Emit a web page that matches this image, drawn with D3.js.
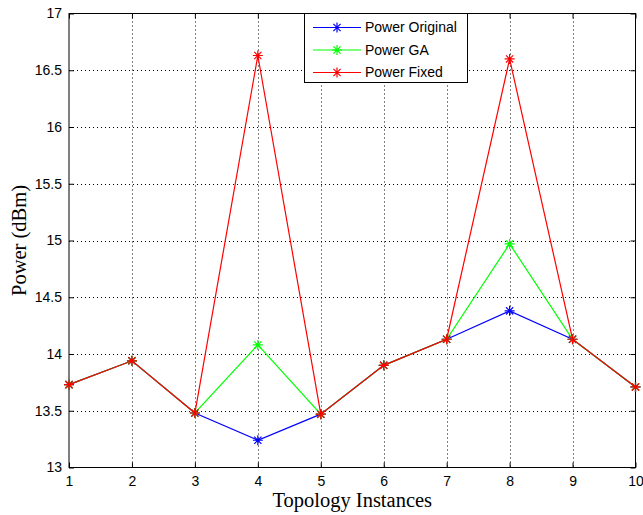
<!DOCTYPE html>
<html><head><meta charset="utf-8">
<script src="https://cdn.jsdelivr.net/npm/d3@7"></script>
<style>body{margin:0;background:#fff;} svg{display:block;}</style>
</head><body>
<svg id="chart" width="643" height="515"></svg>
<script>
const instances = [1,2,3,4,5,6,7,8,9,10];
const powerOriginal = [13.73,13.94,13.48,13.24,13.47,13.90,14.13,14.38,14.13,13.71];
const powerGA       = [13.73,13.94,13.48,14.08,13.47,13.90,14.13,14.97,14.13,13.71];
const powerFixed    = [13.73,13.94,13.48,16.63,13.47,13.90,14.13,16.60,14.13,13.71];
const seriesNames = ["Power Original","Power GA","Power Fixed"];
const seriesColors = ["#0000ff","#00ff00","#ff0000"];
const yTicks = [13,13.5,14,14.5,15,15.5,16,16.5,17];
const xLabel = "Topology Instances";
const yLabel = "Power (dBm)";

const svg = d3.select("#chart");
const L=69, T=13.5, R=635.5, B=467.5;
const x = d3.scaleLinear().domain([1,10]).range([L,R]);
const y = d3.scaleLinear().domain([13,17]).range([B,T]);

// grid
const grid = svg.append("g").attr("stroke","#000").attr("stroke-width",1).attr("stroke-dasharray","1,3");
instances.slice(1,-1).forEach(v=>grid.append("line").attr("x1",Math.round(x(v))+0.5).attr("x2",Math.round(x(v))+0.5).attr("y1",T).attr("y2",B));
yTicks.slice(1,-1).forEach(v=>grid.append("line").attr("y1",Math.round(y(v))+0.5).attr("y2",Math.round(y(v))+0.5).attr("x1",L).attr("x2",R));

// axes
const font = "'Liberation Sans', Arial, sans-serif";
const axB = svg.append("g").attr("transform",`translate(0,${B})`).call(d3.axisBottom(x).tickValues(instances).tickSize(-5).tickPadding(9).tickFormat(d3.format("d")));
const axT = svg.append("g").attr("transform",`translate(0,${T})`).call(d3.axisTop(x).tickValues(instances).tickSize(-5).tickFormat(""));
const axL = svg.append("g").attr("transform",`translate(${L},0)`).call(d3.axisLeft(y).tickValues(yTicks).tickSize(-5).tickPadding(7).tickFormat(d=>String(d)));
const axR = svg.append("g").attr("transform",`translate(${R},0)`).call(d3.axisRight(y).tickValues(yTicks).tickSize(-5).tickFormat(""));
[axB,axT,axL,axR].forEach(a=>{a.select(".domain").remove();a.selectAll("line").attr("stroke","#000");a.selectAll("text").attr("font-family",font).attr("font-size",14).attr("fill","#000");});
svg.append("rect").attr("x",L).attr("y",T).attr("width",R-L).attr("height",B-T).attr("fill","none").attr("stroke","#000").attr("stroke-width",1);

// lines
const allSeries = [powerOriginal,powerGA,powerFixed];
const line = d3.line().x((d,i)=>x(instances[i])).y(d=>y(d));
function star(g,cx,cy,color){
  const s=5, d=3.6;
  const p=`M${cx-s},${cy}L${cx+s},${cy}M${cx},${cy-s}L${cx},${cy+s}M${cx-d},${cy-d}L${cx+d},${cy+d}M${cx-d},${cy+d}L${cx+d},${cy-d}`;
  g.append("path").attr("d",p).attr("stroke",color).attr("stroke-width",1.2).attr("fill","none");
}
allSeries.forEach((vals,k)=>{
  const g = svg.append("g");
  g.append("path").datum(vals).attr("d",line).attr("fill","none").attr("stroke",seriesColors[k]).attr("stroke-width",1.2);
  vals.forEach((v,i)=>star(g,x(instances[i]),y(v),seriesColors[k]));
});

// legend
const lg = svg.append("g");
lg.append("rect").attr("x",304.5).attr("y",T).attr("width",163).attr("height",69).attr("fill","#fff").attr("stroke","#000").attr("stroke-width",1);
seriesNames.forEach((n,k)=>{
  const ly = 27.5 + k*22.5;
  lg.append("line").attr("x1",313).attr("x2",361).attr("y1",ly).attr("y2",ly).attr("stroke",seriesColors[k]).attr("stroke-width",1.2);
  star(lg,337,ly,seriesColors[k]);
  lg.append("text").attr("x",365).attr("y",ly).attr("dy","0.35em").attr("font-family",font).attr("font-size",14).text(n);
});

// axis labels
const serif = "'Liberation Serif', 'Times New Roman', serif";
svg.append("text").attr("x",(L+R)/2).attr("y",507).attr("text-anchor","middle").attr("font-family",serif).attr("font-size",20.5).text(xLabel);
svg.append("text").attr("transform",`translate(26,${(T+B)/2}) rotate(-90)`).attr("text-anchor","middle").attr("font-family",serif).attr("font-size",20.5).text(yLabel);
</script>
</body></html>
